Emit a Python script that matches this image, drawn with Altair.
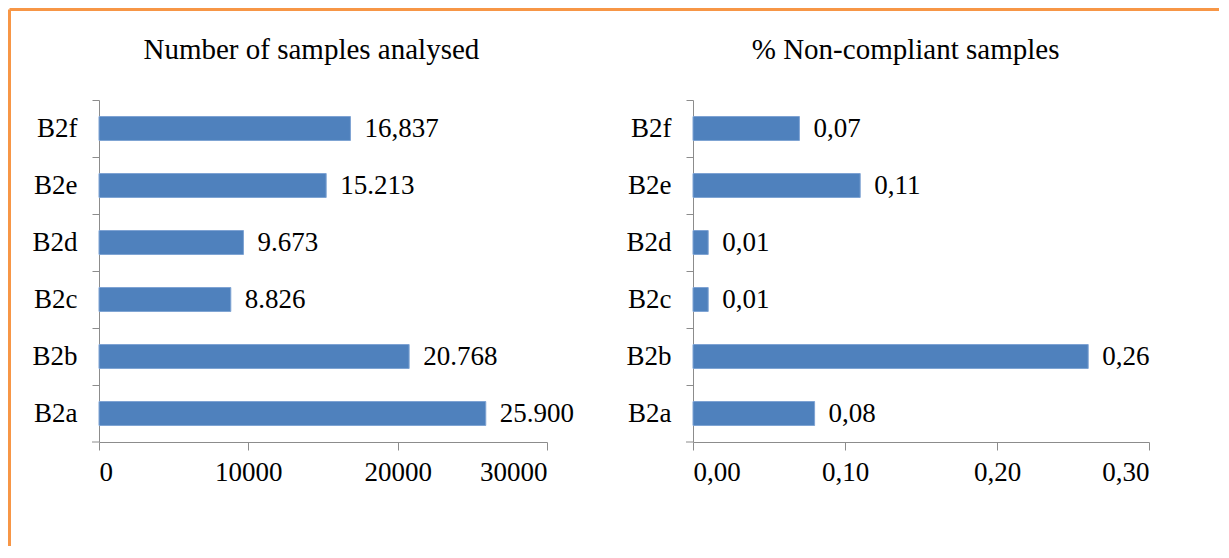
import altair as alt
import pandas as pd

categories = ["B2a", "B2b", "B2c", "B2d", "B2e", "B2f"]
samples = [25900, 20768, 8826, 9673, 15213, 16837]
samples_labels = ["25.900", "20.768", "8.826", "9.673", "15.213", "16,837"]
noncompliant = [0.08, 0.26, 0.01, 0.01, 0.11, 0.07]
noncompliant_labels = ["0,08", "0,26", "0,01", "0,01", "0,11", "0,07"]
left_ticks = [0, 10000, 20000, 30000]
right_ticks = [0.0, 0.1, 0.2, 0.3]
left_title = "Number of samples analysed"
right_title = "% Non-compliant samples"

FONT = "Liberation Serif"
BLUE = "#4F81BD"
AXIS = "#8C8C8C"
ORANGE = "#F79646"
FS = 27
TFS = 29

order = categories[::-1]
W_LEFT, W_RIGHT, H = 448, 456, 342
STEP = H / len(categories)

df_left = pd.DataFrame({"cat": categories, "v": samples, "lab": samples_labels})
df_right = pd.DataFrame({"cat": categories, "v": noncompliant, "lab": noncompliant_labels})


def panel(df, xmax, ticks, title, label_expr, width, dx_title, offset, border=False):
    yscale = alt.Scale(paddingInner=0.58, paddingOuter=0.29)
    yaxis = alt.Axis(
        title=None, domainColor=AXIS, tickColor=AXIS, tickSize=7,
        tickOffset=-STEP / 2, labelOffset=STEP / 2, labelPadding=15,
        labelFont=FONT, labelFontSize=FS, labelColor="black",
    )
    xaxis = alt.Axis(
        title=None, values=ticks, labelExpr=label_expr, grid=False,
        domainColor=AXIS, tickColor=AXIS, tickSize=8, labelPadding=9,
        labelFont=FONT, labelFontSize=FS, labelColor="black",
    )
    base = alt.Chart(df)
    bars = base.mark_bar(color=BLUE, stroke="#7EA3D3", strokeWidth=1).encode(
        y=alt.Y("cat:N", sort=order, scale=yscale, axis=yaxis),
        x=alt.X("v:Q", scale=alt.Scale(domain=[0, xmax], nice=False), axis=xaxis),
    )
    text = base.mark_text(align="left", baseline="middle", dx=14, font=FONT,
                          fontSize=FS, color="black").encode(
        y=alt.Y("cat:N", sort=order),
        x=alt.X("v:Q"),
        text="lab:N",
    )
    last_tick = alt.Chart(df.head(1)).mark_rule(color=AXIS, strokeWidth=1).encode(
        x=alt.value(-7), x2=alt.value(0), y=alt.value(H)
    )
    layers = [bars, text, last_tick]
    if border:
        top = alt.Chart(df.head(1)).mark_rule(color=ORANGE, strokeWidth=3).encode(
            x=alt.value(-89.5), x2=alt.value(1120), y=alt.value(-90.5)
        )
        left = alt.Chart(df.head(1)).mark_rule(color=ORANGE, strokeWidth=3).encode(
            x=alt.value(-89.5), y=alt.value(-90.5), y2=alt.value(446)
        )
        layers += [top, left]
    return alt.layer(*layers).properties(
        width=width, height=H,
        title=alt.Title(title, font=FONT, fontSize=TFS, fontWeight="normal",
                        color="black", anchor="middle", frame="group",
                        offset=offset, dx=dx_title),
    )


left_chart = panel(df_left, 30000, left_ticks, left_title,
                   "format(datum.value, 'd')", W_LEFT, -11.6, -57, border=True)
right_chart = panel(df_right, 0.3, right_ticks, right_title,
                    "replace(format(datum.value, '.2f'), '.', ',')", W_RIGHT, -15.4, 34.5)

chart = alt.hconcat(left_chart, right_chart, spacing=146, bounds="flush").properties(
    padding=0, background="white"
).configure_view(stroke=None)

chart.save("out.html", embed_options={"renderer": "svg", "actions": False})
